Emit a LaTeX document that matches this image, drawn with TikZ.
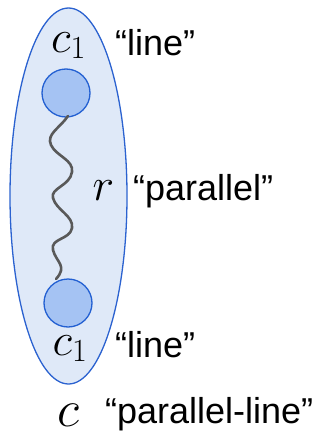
\documentclass[tikz,border=0pt]{standalone}
\usepackage{fix-cm}
\usepackage{fontspec}
\usetikzlibrary{shapes.geometric}
\newfontfamily\lab{Liberation Sans}
\definecolor{grp}{HTML}{DFE9F8}
\definecolor{grpline}{HTML}{2B62D0}
\definecolor{ballfill}{HTML}{A5C3F3}
\definecolor{ballline}{HTML}{2360D2}
\begin{document}
\begin{tikzpicture}[x=1pt,y=-1pt,
  group/.style={ellipse, draw=grpline, fill=grp, line width=1.3pt, minimum width=117pt, minimum height=376pt, inner sep=0pt},
  ball/.style={circle, draw=ballline, fill=ballfill, line width=1.3pt, minimum size=48pt, inner sep=0pt},
  lbl/.style={font=\lab\fontsize{36}{38}\selectfont, anchor=base west, inner sep=0pt},
  mth/.style={font=\fontsize{46}{50}\selectfont, anchor=base, inner sep=0pt},
  spring/.style={draw=black!65, line width=2.6pt, line cap=round}]
\useasboundingbox (0,0) rectangle (322,434);
\node[group] (grp) at (68.5,196) {};
\node[ball] (top) at (66,93) {};
\node[ball] (bot) at (68,303) {};
\coordinate (s1) at (68,116);
\coordinate (s2) at (51,145);
\coordinate (s3) at (72,172);
\coordinate (s4) at (53,198);
\coordinate (s5) at (72,228);
\coordinate (s6) at (53,250);
\coordinate (s7) at (56,279);
\draw[spring] (s1) .. controls (60,128) and (46,134) .. (s2)
  .. controls (56,156) and (74,160) .. (s3)
  .. controls (70,186) and (50,188) .. (s4)
  .. controls (56,210) and (74,216) .. (s5)
  .. controls (70,240) and (50,238) .. (s6)
  .. controls (56,262) and (68,266) .. (s7);
\node[mth] (c1t) at (68.5,52) {$c_1$};
\node[lbl] (lt) at (115,55) {“line”};
\node[mth] (r) at (103.5,200) {$r$};
\node[lbl] (par) at (133,200) {“parallel”};
\node[mth] (c1b) at (70,355) {$c_1$};
\node[lbl] (lb) at (115,357) {“line”};
\node[mth, font=\fontsize{52}{56}\selectfont] (c) at (68.5,426) {$c$};
\node[lbl] (pl) at (105,423) {“parallel-line”};
\end{tikzpicture}
\end{document}
